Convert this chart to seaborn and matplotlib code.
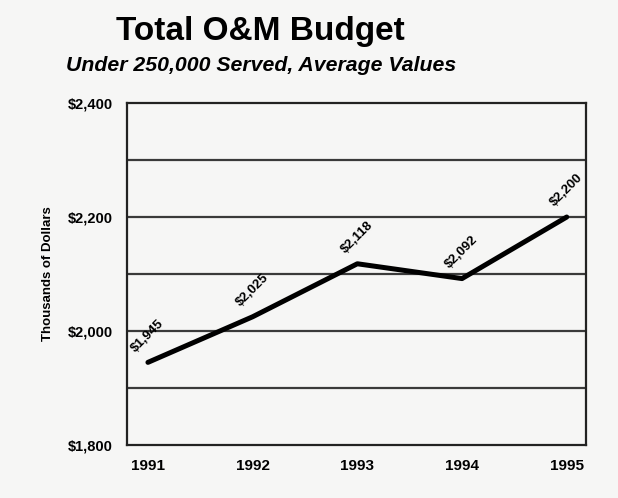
import matplotlib
matplotlib.use("Agg")
import matplotlib.pyplot as plt
import seaborn as sns
import pandas as pd

# Values (thousands of dollars)
years = [1991, 1992, 1993, 1994, 1995]
budget = [1945, 2025, 2118, 2092, 2200]
point_labels = ["$1,945", "$2,025", "$2,118", "$2,092", "$2,200"]
y_ticks = [1800, 2000, 2200, 2400]
y_tick_labels = ["$1,800", "$2,000", "$2,200", "$2,400"]
grid_levels = [1900, 2000, 2100, 2200, 2300]

df = pd.DataFrame({"Year": years, "Budget": budget})

sns.set_style("white")
plt.rcParams["font.family"] = ["Liberation Sans", "DejaVu Sans"]
plt.rcParams["text.color"] = "black"
plt.rcParams["xtick.color"] = "black"
plt.rcParams["ytick.color"] = "black"
plt.rcParams["axes.labelcolor"] = "black"

bg = "#f6f6f5"
fig = plt.figure(figsize=(6.18, 4.98), dpi=100, facecolor=bg)
ax = fig.add_axes([0.2055, 0.1064, 0.742, 0.6867], facecolor=bg)

# horizontal rules like the original print
for lvl in grid_levels:
    ax.axhline(lvl, color="#3a3a3a", lw=1.6, zorder=1)

sns.lineplot(data=df, x="Year", y="Budget", color="black", lw=3.6,
             ax=ax, zorder=3)

# rotated value labels above each point
for x, y, lab in zip(years, budget, point_labels):
    ax.annotate(lab, (x, y), xytext=(0, 19), textcoords="offset points",
                rotation=45, ha="center", va="center",
                fontsize=9.5, fontweight="bold")

ax.set_xlim(1990.8, 1995.18)
ax.set_ylim(1800, 2400)
ax.set_xticks(years)
ax.set_xticklabels([str(y) for y in years], fontsize=11, fontweight="bold")
ax.set_yticks(y_ticks)
ax.set_yticklabels(y_tick_labels, fontsize=10.5, fontweight="bold")
ax.tick_params(axis="x", length=0, pad=10)
ax.tick_params(axis="y", length=0, pad=10)
ax.set_xlabel("")
ax.set_ylabel("Thousands of Dollars", fontsize=9.5, fontweight="bold", labelpad=10)

for side in ax.spines.values():
    side.set_color("#222222")
    side.set_linewidth(1.6)

fig.text(0.421, 0.937, "Total O&M Budget", ha="center", va="center",
         fontsize=24, fontweight="bold")
fig.text(0.422, 0.868, "Under 250,000 Served, Average Values", ha="center",
         va="center", fontsize=15.3, fontweight="bold", style="italic")

fig.savefig("out.png", dpi=100, facecolor=bg)
